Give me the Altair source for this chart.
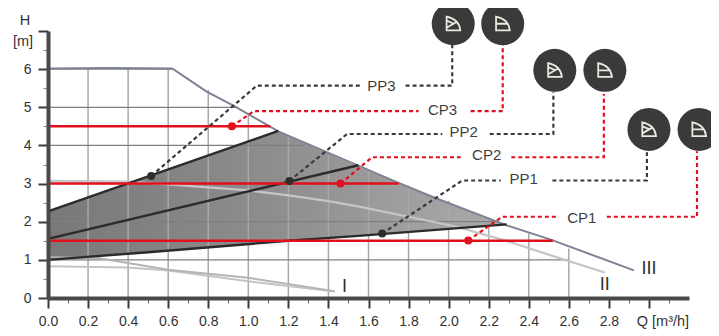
import altair as alt
import pandas as pd

FONT = "Liberation Sans"
DARK = "#3a3a3a"
RED = "#e2101c"
XDOM = [0, 3.2]
YDOM = [0, 7]

# curves (Q, H)
c3_q = [0.0, 0.3, 0.62, 0.79, 0.93, 1.15, 1.75, 1.94, 2.29, 2.51, 2.925]
c3_h = [6.02, 6.03, 6.02, 5.42, 5.03, 4.37, 3.02, 2.61, 1.905, 1.53, 0.725]
c2_q = [0.0, 0.4, 0.6, 1.0, 1.2, 1.4, 1.56, 2.03, 2.28, 2.58, 2.78]
c2_h = [3.07, 3.05, 2.98, 2.82, 2.69, 2.54, 2.39, 1.88, 1.51, 1.0, 0.67]
c1a_q = [0.0, 0.25, 0.6, 1.0, 1.43]
c1a_h = [1.07, 1.05, 0.74, 0.53, 0.18]
c1b_q = [0.0, 0.4, 0.6, 1.0, 1.43]
c1b_h = [0.83, 0.8, 0.72, 0.44, 0.17]

pp3_q = [0.0, 1.15]
pp3_h = [2.27, 4.38]
pp2_q = [0.0, 1.55]
pp2_h = [1.55, 3.48]
pp1_q = [0.0, 0.5, 1.2, 1.55, 2.29]
pp1_h = [1.0, 1.2, 1.5, 1.63, 1.93]

# shaded region
area_q = [0.0, 0.5, 1.15, 1.2, 1.55, 1.75, 1.94, 2.29]
area_lo = [1.0, 1.2, 1.48, 1.5, 1.63, 1.71, 1.79, 1.93]
area_hi = [2.27, 3.18, 4.37, 4.25, 3.44, 3.02, 2.61, 1.93]

# grid, clipped by curve III
grid_v_q = [0.2, 0.4, 0.6, 0.8, 1.0, 1.2, 1.4, 1.6, 1.8, 2.0, 2.2, 2.4, 2.6]
grid_v_top = [6.02, 6.02, 6.02, 5.45, 4.8, 4.25, 3.75, 3.35, 2.95, 2.55, 2.1, 1.7, 1.3]
grid_h_h = [1, 2, 3, 4, 5, 6]
grid_h_end = [2.6, 2.23, 1.75, 1.28, 0.95, 0.62]

# red setpoint lines
red_h = [4.5, 3.0, 1.5]
red_end = [1.11, 1.75, 2.52]

# leaders: (name, Q, H)
leaders = {
    "PP3a": ([0.515, 1.043, 1.56], [3.2, 5.57, 5.57], DARK),
    "PP3b": ([1.785, 2.018, 2.018], [5.57, 5.57, 6.65], DARK),
    "CP3a": ([0.918, 1.027, 1.85], [4.5, 4.9, 4.9], RED),
    "CP3b": ([2.11, 2.27, 2.27], [4.9, 4.9, 6.63], RED),
    "PP2a": ([1.205, 1.493, 1.968], [3.07, 4.3, 4.3], DARK),
    "PP2b": ([2.205, 2.523, 2.523], [4.3, 4.3, 5.4], DARK),
    "CP2a": ([1.46, 1.618, 2.06], [3.0, 3.69, 3.69], RED),
    "CP2b": ([2.313, 2.775, 2.775], [3.69, 3.69, 5.35], RED),
    "PP1a": ([1.668, 2.068, 2.26], [1.69, 3.08, 3.08], DARK),
    "PP1b": ([2.518, 2.99, 2.99], [3.08, 3.08, 3.82], DARK),
    "CP1a": ([2.098, 2.268, 2.55], [1.51, 2.13, 2.13], RED),
    "CP1b": ([2.79, 3.24, 3.24], [2.13, 2.13, 3.85], RED),
}

dots_dark_q = [0.515, 1.205, 1.668]
dots_dark_h = [3.2, 3.07, 1.69]
dots_red_q = [0.918, 1.46, 2.098]
dots_red_h = [4.5, 3.0, 1.51]

# round badges
pp_badge_q = [2.023, 2.53, 3.0]
pp_badge_h = [7.19, 5.97, 4.42]
cp_badge_q = [2.27, 2.78, 3.25]
cp_badge_h = [7.19, 5.97, 4.42]
PP_ICON = "M-.47 -.5 L-.47 .47 L.5 .47 Q.42 -.32 -.47 -.5 Z M-.47 .28 L.3 -.16 M-.47 -.22 L.02 -.02"
CP_ICON = "M-.47 -.5 L-.47 .47 L.5 .47 Q.42 -.32 -.47 -.5 Z M-.47 0 L.38 0"

# labels
lab_text = ["PP3", "CP3", "PP2", "CP2", "PP1", "CP1"]
lab_q = [1.665, 1.97, 2.075, 2.19, 2.375, 2.665]
lab_h = [5.55, 4.92, 4.36, 3.76, 3.13, 2.11]
rom_text = ["I", "II", "III"]
rom_q = [1.48, 2.78, 3.0]
rom_h = [0.3, 0.34, 0.77]
misc_text = ["H", "[m]", "Q [m³/h]"]
misc_q = [-0.115, -0.125, 3.07]
misc_h = [7.25, 6.7, -0.62]

x_major = [round(i * 0.2, 1) for i in range(16)]
x_minor = [round(0.1 + i * 0.2, 1) for i in range(16)]
y_major = list(range(8))
y_minor = [i + 0.5 for i in range(7)]

xs = alt.Scale(domain=XDOM, nice=False, zero=False)
ys = alt.Scale(domain=YDOM, nice=False, zero=False)
X = alt.X("q:Q", scale=xs, axis=None)
Y = alt.Y("h:Q", scale=ys, axis=None)


def frame(q, h):
    return pd.DataFrame({"q": q, "h": h})


def line(q, h, color, width, **kw):
    return alt.Chart(frame(q, h)).mark_line(color=color, strokeWidth=width, clip=False, **kw).encode(x=X, y=Y)


# axes (major and minor sets)
axis_major = alt.Chart(frame([0], [0])).mark_point(opacity=0).encode(
    x=alt.X("q:Q", scale=xs, title=None, axis=alt.Axis(
        orient="bottom", values=x_major, format=".1f",
        labelExpr="datum.value <= 2.8 ? format(datum.value, '.1f') : ''",
        tickSize=10, tickWidth=2, tickColor=DARK, domainWidth=4, domainColor="#4a4a4a",
        grid=False, labelFont=FONT, labelFontSize=14, labelColor="#333333", labelPadding=6,
        labelOverlap=False, labelFlush=False, zindex=1)),
    y=alt.Y("h:Q", scale=ys, title=None, axis=alt.Axis(
        orient="left", values=y_major, labelExpr="datum.value < 7 ? datum.label : ''",
        tickSize=10, tickWidth=2, tickColor=DARK, domainWidth=4, domainColor="#4a4a4a",
        grid=False, labelFont=FONT, labelFontSize=14, labelColor="#333333", labelPadding=7,
        labelOverlap=False, zindex=1)),
)
axis_minor = alt.Chart(frame([0], [0])).mark_point(opacity=0).encode(
    x=alt.X("q:Q", scale=xs, title=None, axis=alt.Axis(
        orient="bottom", values=x_minor, labels=False, domain=False,
        tickSize=5, tickWidth=1, tickColor="#666666", grid=False)),
    y=alt.Y("h:Q", scale=ys, title=None, axis=alt.Axis(
        orient="left", values=y_minor, labels=False, domain=False,
        tickSize=5, tickWidth=1, tickColor="#888888", grid=False)),
)

area = alt.Chart(pd.DataFrame({"q": area_q, "lo": area_lo, "hi": area_hi})).mark_area(
    color=alt.Gradient(
        gradient="linear",
        stops=[alt.GradientStop(color="#797777", offset=0), alt.GradientStop(color="#8f8d8d", offset=0.5),
               alt.GradientStop(color="#acaaaa", offset=1)],
        x1=0, x2=1, y1=0, y2=0)
).encode(x=X, y=alt.Y("hi:Q", scale=ys, axis=None), y2="lo:Q")

grid_v = alt.Chart(pd.DataFrame({"q": grid_v_q, "h": [0] * len(grid_v_q), "t": grid_v_top})).mark_rule(
    color="#a9a9a9", strokeWidth=1.5).encode(x=X, y=Y, y2="t:Q")
grid_h = alt.Chart(pd.DataFrame({"q": [0] * len(grid_h_h), "e": grid_h_end, "h": grid_h_h})).mark_rule(
    color="#808080", strokeWidth=1.2).encode(x=X, x2="e:Q", y=Y)

red_lines = alt.Chart(pd.DataFrame({"q": [0] * 3, "e": red_end, "h": red_h})).mark_rule(
    color=RED, strokeWidth=2.5).encode(x=X, x2="e:Q", y=Y)

leader_layers = [
    line(q, h, col, 2.2, strokeDash=[4, 3]) for q, h, col in leaders.values()
]


def pts(q, h, **kw):
    return alt.Chart(frame(q, h)).mark_point(filled=True, opacity=1, clip=False, **kw).encode(x=X, y=Y)


def txt(t, q, h, size, color="#3f3f3f"):
    return alt.Chart(pd.DataFrame({"t": t, "q": q, "h": h})).mark_text(
        font=FONT, fontSize=size, color=color, align="center", baseline="middle", clip=False
    ).encode(x=X, y=Y, text="t:N")


def icon(q, h, path):
    return alt.Chart(frame(q, h)).mark_point(
        shape=path, size=800, stroke="#e6ebdd", strokeWidth=1.8, fill=None, filled=False, opacity=1, clip=False
    ).encode(x=X, y=Y)


chart = alt.layer(
    area, grid_v, grid_h,
    line(c1b_q, c1b_h, "#c4c4c4", 2),
    line(c1a_q, c1a_h, "#b4b4b4", 2),
    line(c2_q, c2_h, "#c6c6c6", 2.2),
    line(c3_q, c3_h, "#7d8294", 2),
    line(pp3_q, pp3_h, "#2b2b2b", 2.4),
    line(pp2_q, pp2_h, "#2b2b2b", 2.4),
    line(pp1_q, pp1_h, "#2b2b2b", 2.4),
    red_lines,
    *leader_layers,
    pts(dots_dark_q, dots_dark_h, color="#2e2e2a", size=64),
    pts(dots_red_q, dots_red_h, color=RED, size=64),
    pts(pp_badge_q + cp_badge_q, pp_badge_h + cp_badge_h, color="#3a3a3a", size=1849),
    icon(pp_badge_q, pp_badge_h, PP_ICON),
    icon(cp_badge_q, cp_badge_h, CP_ICON),
    txt(lab_text, lab_q, lab_h, 15),
    txt(rom_text, rom_q, rom_h, 18, "#2f2f2f"),
    txt(misc_text, misc_q, misc_h, 14.5, "#333333"),
    axis_major,
    axis_minor,
).resolve_axis(x="independent", y="independent").properties(
    width=641,
    height=267,
    padding={"left": 40, "top": 23, "right": 22, "bottom": 36},
    autosize=alt.AutoSizeParams(type="none"),
    background="white",
).configure_view(stroke=None)

chart.save("out.html", embed_options={"renderer": "svg", "actions": False})
